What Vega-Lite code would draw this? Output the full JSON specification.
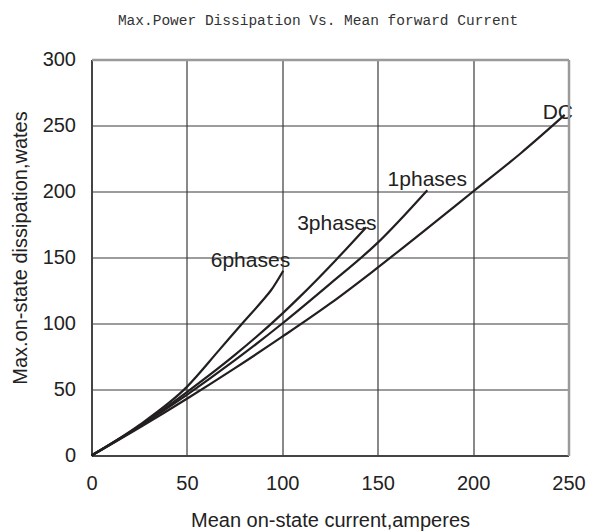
{
  "$schema": "https://vega.github.io/schema/vega-lite/v6.json",
  "width": 477,
  "height": 396,
  "autosize": "none",
  "padding": {"left": 91.5, "top": 59.5, "right": 21.5, "bottom": 76.5},
  "title": {
    "text": "Max.Power Dissipation Vs. Mean forward Current",
    "font": "Liberation Mono",
    "fontSize": 14.5,
    "fontWeight": "normal",
    "color": "#333333",
    "anchor": "middle",
    "frame": "group",
    "dx": -12,
    "offset": 21
  },
  "config": {
    "view": {"stroke": null},
    "axis": {
      "labelFont": "Liberation Sans",
      "titleFont": "Liberation Sans",
      "labelFontSize": 20,
      "titleFontSize": 20,
      "titleFontWeight": "normal",
      "labelColor": "#222222",
      "titleColor": "#222222",
      "tickSize": 0,
      "labelFlush": false,
      "gridColor": "#3a3a3a",
      "gridOpacity": 1,
      "gridWidth": 1.2
    }
  },
  "datasets": {
    "curves": [
      {"series": "6phases", "current": 0, "power": 0},
      {"series": "6phases", "current": 25, "power": 23},
      {"series": "6phases", "current": 50, "power": 52},
      {"series": "6phases", "current": 67, "power": 80},
      {"series": "6phases", "current": 79, "power": 100},
      {"series": "6phases", "current": 90, "power": 118},
      {"series": "6phases", "current": 94, "power": 125},
      {"series": "6phases", "current": 100.5, "power": 140},
      {"series": "3phases", "current": 0, "power": 0},
      {"series": "3phases", "current": 25, "power": 22},
      {"series": "3phases", "current": 50, "power": 48},
      {"series": "3phases", "current": 75, "power": 76},
      {"series": "3phases", "current": 100, "power": 107.5},
      {"series": "3phases", "current": 109, "power": 120},
      {"series": "3phases", "current": 128, "power": 148},
      {"series": "3phases", "current": 144, "power": 173},
      {"series": "1phases", "current": 0, "power": 0},
      {"series": "1phases", "current": 25, "power": 22},
      {"series": "1phases", "current": 50, "power": 46},
      {"series": "1phases", "current": 75, "power": 72},
      {"series": "1phases", "current": 100, "power": 100},
      {"series": "1phases", "current": 125, "power": 130},
      {"series": "1phases", "current": 149.5, "power": 160.5},
      {"series": "1phases", "current": 176, "power": 201},
      {"series": "DC", "current": 0, "power": 0},
      {"series": "DC", "current": 25, "power": 21},
      {"series": "DC", "current": 50, "power": 43},
      {"series": "DC", "current": 75, "power": 66},
      {"series": "DC", "current": 100, "power": 90},
      {"series": "DC", "current": 125, "power": 115},
      {"series": "DC", "current": 147, "power": 139},
      {"series": "DC", "current": 175, "power": 171},
      {"series": "DC", "current": 200, "power": 200},
      {"series": "DC", "current": 225, "power": 229},
      {"series": "DC", "current": 248, "power": 258}
    ],
    "labels": [
      {"label": "6phases", "x": 83.3, "y": 142.6},
      {"label": "3phases", "x": 128.6, "y": 170.7},
      {"label": "1phases", "x": 176, "y": 204},
      {"label": "DC", "x": 244.4, "y": 255}
    ]
  },
  "layer": [
    {
      "data": {"name": "curves"},
      "mark": {"type": "line", "color": "#231f20", "strokeWidth": 2.2, "interpolate": "monotone"},
      "encoding": {
        "x": {
          "field": "current",
          "type": "quantitative",
          "scale": {"domain": [0, 250], "nice": false, "zero": true},
          "axis": {
            "orient": "bottom",
            "title": "Mean on-state current,amperes",
            "values": [0, 50, 100, 150, 200, 250],
            "grid": true,
            "domainColor": "#444444",
            "domainWidth": 2,
            "labelPadding": 18,
            "titlePadding": 17
          }
        },
        "y": {
          "field": "power",
          "type": "quantitative",
          "scale": {"domain": [0, 300], "nice": false, "zero": true},
          "axis": {
            "orient": "left",
            "title": "Max.on-state dissipation,wates",
            "values": [0, 50, 100, 150, 200, 250, 300],
            "grid": true,
            "domainColor": "#444444",
            "domainWidth": 2,
            "labelPadding": 16,
            "titleX": -65.5,
            "titleY": 188,
            "titleBaseline": "alphabetic"
          }
        },
        "detail": {"field": "series"}
      }
    },
    {
      "data": {"name": "labels"},
      "mark": {
        "type": "text",
        "font": "Liberation Sans",
        "fontSize": 21,
        "color": "#222222",
        "align": "center",
        "baseline": "alphabetic"
      },
      "encoding": {
        "x": {
          "field": "x",
          "type": "quantitative",
          "axis": {
            "orient": "top",
            "title": null,
            "labels": false,
            "ticks": false,
            "grid": false,
            "domainColor": "#9a9a9a",
            "domainWidth": 2.5,
            "zindex": 1
          }
        },
        "y": {
          "field": "y",
          "type": "quantitative",
          "axis": {
            "orient": "right",
            "title": null,
            "labels": false,
            "ticks": false,
            "grid": false,
            "domainColor": "#9a9a9a",
            "domainWidth": 2.5,
            "zindex": 1
          }
        },
        "text": {"field": "label"}
      }
    }
  ],
  "resolve": {"axis": {"x": "independent", "y": "independent"}}
}
